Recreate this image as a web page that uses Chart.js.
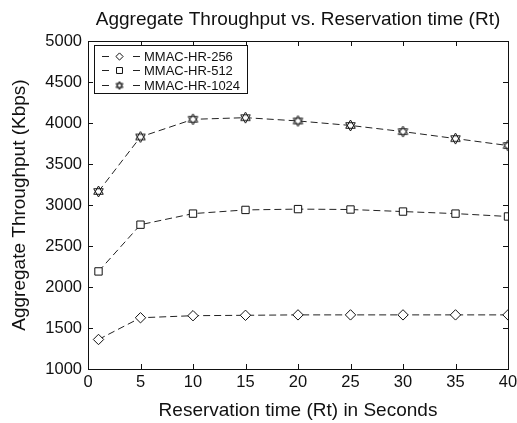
<!DOCTYPE html>
<html><head><meta charset="utf-8">
<script src="https://cdn.jsdelivr.net/npm/chart.js@4/dist/chart.umd.min.js"></script>
<style>html,body{margin:0;padding:0;background:#fff}#wrap{width:517px;height:423px}</style>
</head><body><div id="wrap"><canvas id="c" width="517" height="423"></canvas></div>
<script>
const xValues = [1, 5, 10, 15, 20, 25, 30, 35, 40];
const hr256 = [1360, 1625, 1650, 1655, 1660, 1660, 1660, 1660, 1660];
const hr512 = [2190, 2760, 2895, 2940, 2950, 2945, 2920, 2895, 2860];
const hr1024 = [3165, 3830, 4045, 4065, 4025, 3970, 3895, 3810, 3725];
const seriesLabels = ['MMAC-HR-256', 'MMAC-HR-512', 'MMAC-HR-1024'];
const xTicks = [0, 5, 10, 15, 20, 25, 30, 35, 40];
const yTicks = [1000, 1500, 2000, 2500, 3000, 3500, 4000, 4500, 5000];
const FONT = "'Liberation Sans', Arial, Helvetica, sans-serif";

function hexagram(r) {
  const s = Math.ceil(r * 2 + 4), c = document.createElement('canvas');
  c.width = s; c.height = s;
  const g = c.getContext('2d'), cx = s / 2, cy = s / 2;
  const tri = (off) => {
    g.beginPath();
    for (let i = 0; i < 3; i++) {
      const a = off + i * 2 * Math.PI / 3;
      const px = cx + r * Math.cos(a), py = cy + r * Math.sin(a);
      i ? g.lineTo(px, py) : g.moveTo(px, py);
    }
    g.closePath();
  };
  g.fillStyle = '#fff';
  tri(-Math.PI / 2); g.fill(); tri(Math.PI / 2); g.fill();
  g.strokeStyle = '#111'; g.lineWidth = 1;
  tri(-Math.PI / 2); g.stroke(); tri(Math.PI / 2); g.stroke();
  return c;
}
const starImg = hexagram(5.5);
const starSmall = hexagram(4);

const series = [
  {label: seriesLabels[0], data: hr256, pointStyle: 'rectRot', pointRadius: 5.2, legendStyle: 'rectRot', legendRadius: 3.6},
  {label: seriesLabels[1], data: hr512, pointStyle: 'rect', pointRadius: 5.2, legendStyle: 'rect', legendRadius: 4.2},
  {label: seriesLabels[2], data: hr1024, pointStyle: starImg, pointRadius: 5.5, legendStyle: starSmall, legendRadius: 4}
];

const frame = {
  id: 'frame',
  afterDatasetsDraw(chart) {
    const {ctx, chartArea: a, scales: {x, y}} = chart;
    ctx.save();
    ctx.strokeStyle = '#111'; ctx.lineWidth = 1;
    ctx.strokeRect(a.left + 0.5, a.top + 0.5, a.right - a.left, a.bottom - a.top);
    ctx.beginPath();
    const tl = 5;
    xTicks.forEach(v => {
      const px = Math.round(x.getPixelForValue(v)) + 0.5;
      ctx.moveTo(px, a.bottom); ctx.lineTo(px, a.bottom - tl);
      ctx.moveTo(px, a.top); ctx.lineTo(px, a.top + tl);
    });
    yTicks.forEach(v => {
      const py = Math.round(y.getPixelForValue(v)) + 0.5;
      ctx.moveTo(a.left, py); ctx.lineTo(a.left + tl, py);
      ctx.moveTo(a.right, py); ctx.lineTo(a.right - tl, py);
    });
    ctx.stroke();
    // legend
    const bx = 94.5, by = 45.5, bw = 153, bh = 48;
    ctx.fillStyle = '#fff';
    ctx.fillRect(bx, by, bw, bh);
    ctx.strokeRect(bx, by, bw, bh);
    ctx.font = '13px ' + FONT;
    ctx.textBaseline = 'middle';
    series.forEach((s, i) => {
      const cy = Math.round(by + 10 + i * 14.5) + 0.5;
      ctx.strokeStyle = '#222';
      ctx.beginPath();
      ctx.moveTo(102, cy); ctx.lineTo(109, cy);
      ctx.moveTo(133, cy); ctx.lineTo(140, cy);
      ctx.stroke();
      ctx.fillStyle = '#fff';
      ctx.strokeStyle = '#111';
      ctx.lineWidth = 1;
      Chart.helpers.drawPoint(ctx, {pointStyle: s.legendStyle, radius: s.legendRadius, borderWidth: 1}, 119.5, cy);
      ctx.fillStyle = '#111';
      ctx.fillText(s.label, 144, cy + 0.5);
    });
    ctx.restore();
  }
};

new Chart(document.getElementById('c'), {
  type: 'line',
  data: {
    datasets: series.map(s => ({
      label: s.label,
      data: xValues.map((xv, i) => ({x: xv, y: s.data[i]})),
      borderColor: '#222',
      borderWidth: 1,
      borderDash: [7, 4],
      pointStyle: s.pointStyle,
      pointRadius: s.pointRadius,
      pointBackgroundColor: '#fff',
      pointBorderColor: '#111',
      pointBorderWidth: 1,
      tension: 0,
      fill: false
    }))
  },
  options: {
    responsive: false,
    animation: false,
    devicePixelRatio: 1,
    layout: {padding: {top: 0, left: 0, right: 0, bottom: 0}},
    plugins: {
      legend: {display: false},
      tooltip: {enabled: false},
      title: {
        display: true,
        text: 'Aggregate Throughput vs. Reservation time (Rt)',
        fullSize: false,
        color: '#111',
        font: {family: FONT, size: 19, weight: 'normal'},
        padding: {top: 8, bottom: 10.2}
      }
    },
    scales: {
      x: {
        type: 'linear', min: 0, max: 40,
        afterBuildTicks: s => { s.ticks = xTicks.map(v => ({value: v})); },
        afterFit: s => { s.height = 54; s.paddingLeft = 0; s.paddingRight = 9; },
        grid: {display: false, drawTicks: false},
        border: {display: false},
        ticks: {color: '#111', font: {family: FONT, size: 16.5}, padding: 4, maxRotation: 0,
          callback: v => String(v)},
        title: {display: true, text: 'Reservation time (Rt) in Seconds', color: '#111',
          font: {family: FONT, size: 19}, padding: {top: 0, bottom: 1}}
      },
      y: {
        type: 'linear', min: 1000, max: 5000,
        afterBuildTicks: s => { s.ticks = yTicks.map(v => ({value: v})); },
        afterFit: s => { s.width = 88; s.paddingTop = 0; s.paddingBottom = 0; },
        grid: {display: false, drawTicks: false},
        border: {display: false},
        ticks: {color: '#111', font: {family: FONT, size: 16.5}, padding: 6,
          callback: v => String(v)},
        title: {display: true, text: 'Aggregate Throughput (Kbps)', color: '#111',
          font: {family: FONT, size: 19}, padding: {top: 8.5, bottom: 0}}
      }
    }
  },
  plugins: [frame]
});
</script>
</body></html>
